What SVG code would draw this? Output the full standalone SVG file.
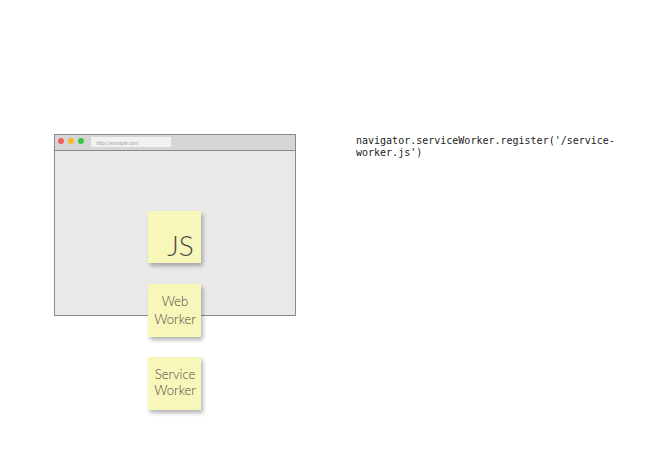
<svg xmlns="http://www.w3.org/2000/svg" width="653" height="459" viewBox="0 0 653 459">
<defs>
<filter id="sh" x="-20%" y="-20%" width="150%" height="150%">
<feGaussianBlur in="SourceAlpha" stdDeviation="2"/>
<feOffset dx="2" dy="3" result="b"/>
<feComponentTransfer><feFuncA type="linear" slope="0.3"/></feComponentTransfer>
<feMerge><feMergeNode/><feMergeNode in="SourceGraphic"/></feMerge>
</filter>
</defs>
<style>
.note{fill:#f6f7b8;filter:url(#sh)}
.lbl{font-family:Lato,"Open Sans",sans-serif;font-weight:300;fill:#4a4a4a;text-anchor:middle}
.code{font-family:"DejaVu Sans Mono",monospace;font-size:10px;fill:#222}
</style>
<rect width="653" height="459" fill="#fff"/>
<g id="browser">
<rect x="54.5" y="134.5" width="241" height="181" fill="#e9e9e9" stroke="#8a8a8a"/>
<rect x="55" y="135" width="240" height="15" fill="#d6d6d6"/>
<line x1="54.5" y1="150.5" x2="295.5" y2="150.5" stroke="#8a8a8a"/>
<circle cx="61" cy="141" r="3" fill="#f45b5b"/>
<circle cx="71" cy="141" r="3" fill="#f7b731"/>
<circle cx="81" cy="141" r="3" fill="#3ac34a"/>
<rect x="91" y="137" width="80" height="10" fill="#f2f2f2"/>
<text x="96" y="144.5" font-family="Lato,sans-serif" font-size="5" fill="#aaa">http://example.com</text>
</g>
<g id="js">
<rect class="note" x="148" y="211" width="53" height="52"/>
<text class="lbl" x="180.5" y="256" font-size="28">JS</text>
</g>
<g id="webworker">
<rect class="note" x="148" y="284" width="53" height="53"/>
<text class="lbl" x="175" y="306" font-size="13">Web</text>
<text class="lbl" x="175" y="324" font-size="13">Worker</text>
</g>
<g id="serviceworker">
<rect class="note" x="148" y="357" width="53" height="53"/>
<text class="lbl" x="175" y="379" font-size="13">Service</text>
<text class="lbl" x="175" y="395" font-size="13">Worker</text>
</g>
<g id="connectors"/>
<g id="code">
<text class="code" x="356" y="144">navigator.serviceWorker.register('/service-</text>
<text class="code" x="356" y="156">worker.js')</text>
</g>
</svg>
